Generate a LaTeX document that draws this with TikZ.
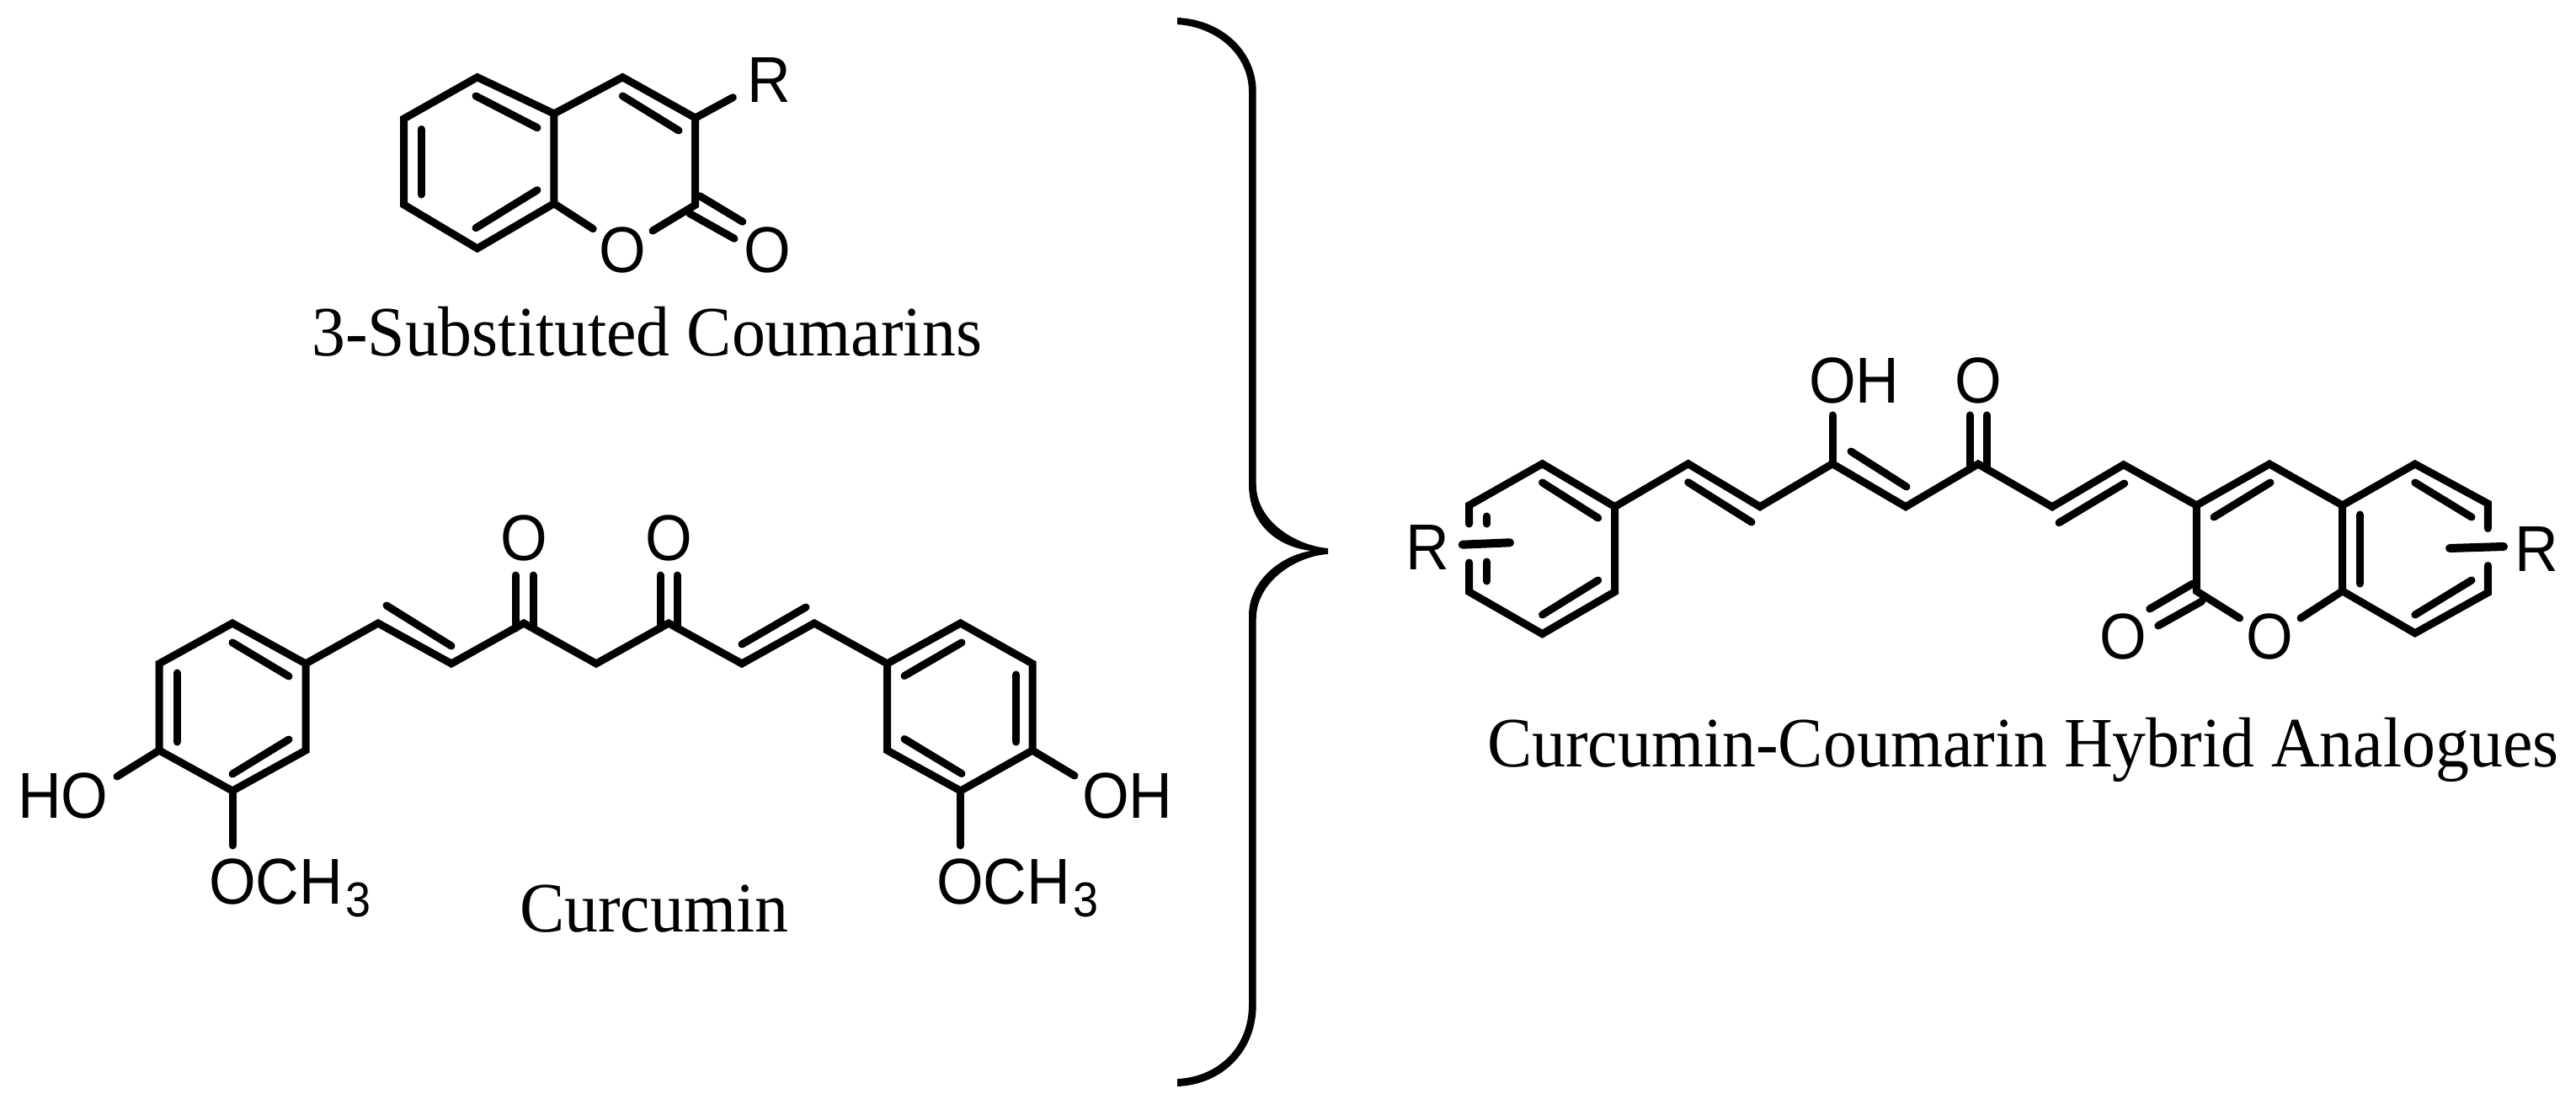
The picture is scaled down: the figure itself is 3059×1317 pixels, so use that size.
\documentclass[tikz,border=0pt]{standalone}
\usepackage{fontspec}
\setmainfont[FakeStretch=0.95]{Liberation Serif}
\newfontfamily\chemfont[FakeStretch=0.93]{Liberation Sans}
\newcommand{\subthree}{{\kern3pt\fontsize{58}{58}\selectfont\raisebox{-15pt}{3}}}
\tikzset{
  bond/.style={line width=9pt,line cap=round,line join=miter,miter limit=10},
  thinbond/.style={line width=9pt,line cap=round},
  thickbond/.style={line width=10pt,line cap=round},
  atomlabel/.style={font=\chemfont\fontsize{77}{77}\selectfont,inner sep=0pt},
  caption/.style={font=\fontsize{84}{84}\selectfont,inner sep=0pt,anchor=base west},
}
\begin{document}
\begin{tikzpicture}[x=1pt,y=-1pt]
\useasboundingbox[fill=white] (0,0) rectangle (3059,1317);

% ---------- 3-substituted coumarin ----------
\coordinate (a1) at (566.8,91.7);
\coordinate (a2) at (479.5,141);
\coordinate (a3) at (479.5,243);
\coordinate (a4) at (566.8,295);
\coordinate (a5) at (657.9,241.7);
\coordinate (a6) at (657.9,135);
\coordinate (a7) at (739.3,91.7);
\coordinate (a8) at (825.7,140);
\coordinate (a9) at (825.7,243.3);
\node[atomlabel] (aO) at (739.3,297) {O};
\node[atomlabel] (aOd) at (911.4,297) {O};
\node[atomlabel] (aR) at (913,95) {R};
\coordinate (aOs) at (704.3,271.7);
\coordinate (aOe) at (775,274);
\coordinate (aRs) at (870.4,115.7);
\coordinate (ad1s) at (831,232.7); \coordinate (ad1e) at (881.8,263.3);
\coordinate (ad2s) at (818.6,253.3); \coordinate (ad2e) at (872,283.3);
\coordinate (ai1s) at (500.4,153.5); \coordinate (ai1e) at (500.4,231);
\coordinate (ai2s) at (565,114); \coordinate (ai2e) at (638,151.7);
\coordinate (ai3s) at (565,270.7); \coordinate (ai3e) at (638,225.7);
\coordinate (ai4s) at (739.3,114); \coordinate (ai4e) at (806,155);
\draw[bond] (a1)--(a2)--(a3)--(a4)--(a5)--(a6)--cycle;
\draw[bond] (a6)--(a7)--(a8)--(a9)--(aOe);
\draw[bond] (a5)--(aOs);
\draw[bond] (a8)--(aRs);
\draw[thinbond] (ad1s)--(ad1e);
\draw[thinbond] (ad2s)--(ad2e);
\draw[thinbond] (ai1s)--(ai1e);
\draw[thinbond] (ai2s)--(ai2e);
\draw[thinbond] (ai3s)--(ai3e);
\draw[thinbond] (ai4s)--(ai4e);
\node[caption] (capA) at (370,422) {3-Substituted Coumarins};

% ---------- curcumin ----------
\coordinate (b1) at (276,740);
\coordinate (b2) at (189,788);
\coordinate (b3) at (189,891);
\coordinate (b4) at (276,939);
\coordinate (b5) at (363,891);
\coordinate (b6) at (363,788);
\coordinate (b7) at (449,740);
\coordinate (b8) at (536,788);
\coordinate (b9) at (622,740);
\coordinate (b10) at (708,788);
\coordinate (b11) at (794,740);
\coordinate (b12) at (881,788);
\coordinate (b13) at (967,740);
\coordinate (c1) at (1053.6,788);
\coordinate (c2) at (1140.6,740);
\coordinate (c3) at (1226,788);
\coordinate (c4) at (1226,891);
\coordinate (c5) at (1140.6,939);
\coordinate (c6) at (1053.6,891);
\node[atomlabel] (bO1) at (622,639) {O};
\node[atomlabel] (bO2) at (794,639) {O};
\node[atomlabel,anchor=west] (bHO) at (21,945) {HO};
\node[atomlabel,anchor=west] (bOH) at (1285,945) {OH};
\node[atomlabel,anchor=base west] (bMe1) at (248,1073) {OCH\subthree};
\node[atomlabel,anchor=base west] (bMe2) at (1112,1073) {OCH\subthree};
\coordinate (bHOe) at (139,922);
\coordinate (bOHe) at (1276,921);
\coordinate (bMe1e) at (276,1004);
\coordinate (bMe2e) at (1140.6,1004);
\coordinate (bd1s) at (612,683); \coordinate (bd1e) at (612,746);
\coordinate (bd2s) at (633,683); \coordinate (bd2e) at (633,746);
\coordinate (bd3s) at (784,683); \coordinate (bd3e) at (784,746);
\coordinate (bd4s) at (804,683); \coordinate (bd4e) at (804,746);
\coordinate (bi1s) at (210,799); \coordinate (bi1e) at (210,881);
\coordinate (bi2s) at (276,763); \coordinate (bi2e) at (343,803);
\coordinate (bi3s) at (276,919); \coordinate (bi3e) at (343,878);
\coordinate (bi4s) at (459,719); \coordinate (bi4e) at (536,767);
\coordinate (bi5s) at (881,765); \coordinate (bi5e) at (957,721);
\coordinate (bi6s) at (1074,802.5); \coordinate (bi6e) at (1142,763);
\coordinate (bi7s) at (1206.7,801); \coordinate (bi7e) at (1206.7,881);
\coordinate (bi8s) at (1074,877.5); \coordinate (bi8e) at (1142,918.6);
\draw[bond] (b1)--(b2)--(b3)--(b4)--(b5)--(b6)--cycle;
\draw[bond] (b6)--(b7)--(b8)--(b9)--(b10)--(b11)--(b12)--(b13)--(c1);
\draw[bond] (c1)--(c2)--(c3)--(c4)--(c5)--(c6)--cycle;
\draw[bond] (b3)--(bHOe);
\draw[bond] (c4)--(bOHe);
\draw[bond] (b4)--(bMe1e);
\draw[bond] (c5)--(bMe2e);
\foreach \n in {bd1,bd2,bd3,bd4,bi1,bi2,bi3,bi4,bi5,bi6,bi7,bi8}
  \draw[thinbond] (\n s)--(\n e);
\node[caption] (capB) at (617,1106) {Curcumin};

% ---------- brace ----------
\fill (1398,21) .. controls (1450,23) and (1491.7,60) .. (1491.7,109)
  -- (1491.7,575) .. controls (1491.7,620) and (1540,648) .. (1577,651)
  -- (1577,658) .. controls (1540,660) and (1491.7,690) .. (1491.7,735)
  -- (1491.7,1193) .. controls (1491.7,1250) and (1450,1288) .. (1398,1290)
  -- (1398,1281) .. controls (1445,1279) and (1483,1245) .. (1483,1193)
  -- (1483,731) .. controls (1483,690) and (1520,660) .. (1557,654)
  .. controls (1520,650) and (1483,625) .. (1483,575)
  -- (1483,109) .. controls (1483,65) and (1445,32) .. (1398,29) -- cycle;

% ---------- hybrid ----------
\coordinate (d1) at (1831.5,550.7);
\coordinate (d2) at (1744.5,600);
\coordinate (d2b) at (1744.5,622);
\coordinate (d3b) at (1744.5,668);
\coordinate (d3) at (1744.5,702.7);
\coordinate (d4) at (1831.5,752.7);
\coordinate (d5) at (1917.6,702.7);
\coordinate (d6) at (1917.6,601.7);
\coordinate (d7) at (2004.7,550.7);
\coordinate (d8) at (2090,601.7);
\coordinate (d9) at (2176,550.7);
\coordinate (d10) at (2263,601.7);
\coordinate (d11) at (2349,551);
\coordinate (d12) at (2437,601.8);
\coordinate (d13) at (2521.7,551.8);
\coordinate (e1) at (2608.3,600);
\coordinate (e2) at (2695,551);
\coordinate (e3) at (2781.6,600);
\coordinate (e4) at (2867.8,551);
\coordinate (e5) at (2954.4,598);
\coordinate (e5b) at (2954.4,627.5);
\coordinate (e6b) at (2954.4,671.5);
\coordinate (e6) at (2954.4,703.6);
\coordinate (e7) at (2867.8,751.8);
\coordinate (e8) at (2781.6,701.8);
\coordinate (e9) at (2608.3,701.8);
\node[atomlabel] (dR) at (1695,650.5) {R};
\node[atomlabel] (eR) at (3012,652) {R};
\node[atomlabel,anchor=west] (dOH) at (2148,451.7) {OH};
\node[atomlabel] (dO) at (2349,451.7) {O};
\node[atomlabel] (eOd) at (2521.7,756) {O};
\node[atomlabel] (eO) at (2695,756) {O};
\coordinate (dOHe) at (2176,493);
\coordinate (eOs) at (2659.6,734);
\coordinate (eOe) at (2732,734);
\coordinate (dr1) at (1736.7,646.7); \coordinate (dr2) at (1793,644.3);
\coordinate (er1) at (2909,651); \coordinate (er2) at (2973,649);
\coordinate (di1s) at (1765.4,613); \coordinate (di1e) at (1765.4,622);
\coordinate (di2s) at (1765.4,667); \coordinate (di2e) at (1765.4,690);
\coordinate (di3s) at (1831.5,573); \coordinate (di3e) at (1897.7,615);
\coordinate (di4s) at (1831.5,730); \coordinate (di4e) at (1897.7,689);
\coordinate (di5s) at (2004.7,572.7); \coordinate (di5e) at (2080,620);
\coordinate (di6s) at (2198,536); \coordinate (di6e) at (2264,578);
\coordinate (di7s) at (2339,493); \coordinate (di7e) at (2339,557);
\coordinate (di8s) at (2359,493); \coordinate (di8e) at (2359,557);
\coordinate (di9s) at (2445,620.7); \coordinate (di9e) at (2522.7,574);
\coordinate (di10s) at (2629,614); \coordinate (di10e) at (2696,573);
\coordinate (di11s) at (2802.4,611); \coordinate (di11e) at (2802.4,693);
\coordinate (di12s) at (2867.8,573); \coordinate (di12e) at (2935,614);
\coordinate (di13s) at (2867.8,730); \coordinate (di13e) at (2935,689);
\coordinate (di14s) at (2552.7,723); \coordinate (di14e) at (2604,693);
\coordinate (di15s) at (2562.8,743); \coordinate (di15e) at (2614.6,714);
\draw[bond] (d2b)--(d2)--(d1)--(d6)--(d5)--(d4)--(d3)--(d3b);
\draw[bond] (d6)--(d7)--(d8)--(d9)--(d10)--(d11)--(d12)--(d13)--(e1)--(e2)--(e3)--(e4)--(e5)--(e5b);
\draw[bond] (e1)--(e9)--(eOs);
\draw[bond] (e6b)--(e6)--(e7)--(e8)--(e3);
\draw[bond] (e8)--(eOe);
\draw[bond] (d9)--(dOHe);
\draw[thickbond] (dr1)--(dr2);
\draw[thickbond] (er1)--(er2);
\foreach \n in {di1,di2,di3,di4,di5,di6,di7,di8,di9,di10,di11,di12,di13,di14,di15}
  \draw[thinbond] (\n s)--(\n e);
\node[caption] (capC) at (1766,910) {Curcumin-Coumarin Hybrid Analogues};
\end{tikzpicture}
\end{document}
